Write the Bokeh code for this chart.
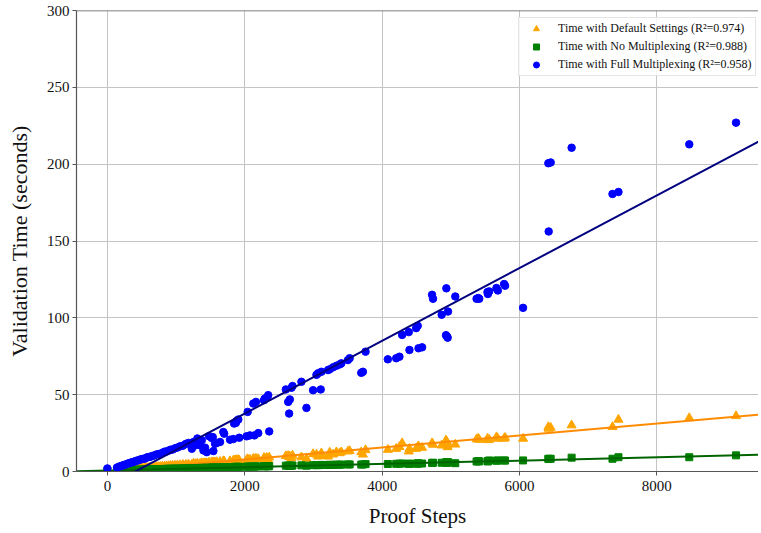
from bokeh.plotting import figure
from bokeh.models import Range1d, FixedTicker, Legend, LegendItem, Span
from bokeh.embed import file_html
from bokeh.resources import INLINE

# ---- data ----
proof_steps = [0, 140, 175, 205, 235, 260, 290, 315, 340, 365,
               390, 415, 440, 465, 490, 515, 540, 565, 590, 620,
               650, 680, 710, 740, 770, 800, 830, 860, 890, 920,
               950, 985, 1020, 1060, 1100, 1140, 1180, 1229, 1253, 1277,
               1310, 1350, 1374, 1398, 1422, 1447, 1480, 1519, 1534, 1543,
               1567, 1592, 1640, 1688, 1700, 1785, 1833, 1845, 1870, 1882,
               1906, 1920, 2027, 2042, 2075, 2124, 2140, 2163, 2196, 2279,
               2293, 2318, 2341, 2356, 2598, 2632, 2646, 2656, 2680, 2695,
               2825, 2898, 2995, 3044, 3067, 3106, 3116, 3212, 3237, 3285,
               3334, 3382, 3406, 3502, 3527, 3696, 3720, 3759, 4083, 4205,
               4252, 4291, 4388, 4398, 4495, 4518, 4530, 4582, 4727, 4741,
               4867, 4930, 4935, 4945, 4954, 4959, 5065, 5375, 5399, 5414,
               5534, 5540, 5559, 5665, 5685, 5776, 5790, 6052, 6420, 6425,
               6454, 6759, 7354, 7441, 8472, 9153]

time_full = [2.0, 2.6, 3.3, 3.6, 4.2, 4.4, 5.1, 5.3, 5.8, 6.0,
             6.4, 6.9, 7.1, 7.6, 7.9, 8.2, 8.3, 8.9, 9.4, 9.5,
             10.1, 10.4, 11.0, 11.3, 11.6, 12.1, 12.9, 13.0, 13.6, 14.2,
             14.3, 15.1, 15.6, 16.4, 16.8, 17.9, 18.6, 14.8, 19.2, 17.0,
             21.5, 17.0, 20.3, 13.7, 15.5, 12.6, 23.0, 21.8, 22.4, 13.3,
             18.1, 18.5, 19.2, 25.7, 24.6, 20.7, 21.1, 31.2, 31.6, 32.9,
             33.8, 22.0, 22.9, 38.8, 23.5, 44.2, 23.5, 45.3, 25.0, 46.4,
             47.5, 48.0, 49.7, 26.1, 53.4, 45.3, 37.7, 46.9, 54.5, 55.6,
             58.4, 41.4, 52.9, 62.9, 63.9, 53.4, 64.9, 66.0, 66.5, 67.8,
             68.8, 69.7, 70.4, 72.5, 73.7, 64.2, 64.9, 78.0, 73.0, 73.7,
             74.7, 88.9, 90.7, 79.1, 93.3, 94.8, 80.2, 80.8, 115.0, 112.4,
             102.0, 88.7, 119.2, 87.8, 87.1, 104.1, 113.9, 112.4, 112.9, 112.4,
             116.8, 115.5, 117.2, 119.4, 117.8, 122.0, 120.9, 106.5, 200.6, 156.2,
             201.1, 210.7, 180.6, 181.9, 212.9, 227.0]

time_default = [0.4, 0.6, 0.8, 0.9, 1.0, 1.1, 1.2, 1.3, 1.4, 1.5,
                1.6, 1.7, 1.8, 1.9, 2.0, 2.1, 2.2, 2.3, 2.4, 2.5,
                2.6, 2.7, 2.9, 3.0, 3.1, 3.2, 3.3, 3.5, 3.6, 3.7,
                3.8, 3.9, 4.1, 4.2, 4.4, 4.5, 4.7, 4.6, 5.1, 4.9,
                5.3, 5.0, 5.5, 5.2, 5.6, 5.4, 5.9, 6.0, 6.1, 5.8,
                6.0, 6.2, 6.3, 6.8, 6.6, 6.8, 7.0, 7.3, 7.4, 7.5,
                7.6, 7.2, 7.6, 8.1, 7.8, 8.4, 8.0, 8.5, 8.2, 8.9,
                8.3, 9.0, 7.6, 9.2, 10.1, 10.2, 9.5, 9.8, 8.7, 10.4,
                9.3, 8.3, 11.4, 11.1, 9.8, 10.5, 11.9, 9.8, 12.4, 11.1,
                12.6, 12.0, 12.6, 13.1, 13.4, 12.6, 11.1, 14.0, 14.2, 14.8,
                16.0, 18.5, 13.1, 14.8, 14.8, 15.9, 16.5, 15.5, 18.5, 17.5,
                17.0, 20.3, 19.5, 17.0, 15.9, 18.0, 17.6, 21.0, 21.4, 20.7,
                21.4, 20.5, 20.7, 22.4, 21.4, 21.4, 22.0, 21.4, 29.0, 27.9,
                28.5, 30.1, 29.0, 33.8, 34.8, 36.1]

time_nomux = [0.5, 0.6, 0.7, 0.7, 0.8, 0.8, 0.9, 0.9, 1.0, 1.0,
              1.0, 1.1, 1.1, 1.2, 1.2, 1.2, 1.3, 1.3, 1.4, 1.4,
              1.4, 1.5, 1.5, 1.6, 1.6, 1.6, 1.7, 1.7, 1.8, 1.8,
              1.8, 1.9, 1.9, 2.0, 2.0, 2.1, 2.1, 2.2, 2.2, 2.2,
              2.3, 2.3, 2.4, 2.3, 2.4, 2.4, 2.5, 2.5, 2.6, 2.5,
              2.6, 2.6, 2.7, 2.8, 2.8, 2.9, 2.9, 3.0, 3.0, 3.0,
              3.1, 3.0, 3.1, 3.2, 3.2, 3.3, 3.2, 3.3, 3.3, 3.4,
              3.4, 3.5, 3.4, 3.5, 3.8, 3.9, 3.7, 3.8, 3.8, 3.9,
              4.0, 3.8, 4.1, 4.2, 4.1, 4.2, 4.3, 4.2, 4.4, 4.3,
              4.5, 4.4, 4.5, 4.6, 4.6, 4.5, 4.6, 4.8, 4.9, 5.0,
              5.1, 5.2, 5.0, 5.1, 5.1, 5.3, 5.2, 5.2, 5.6, 5.7,
              5.7, 5.9, 6.0, 5.7, 5.8, 6.1, 5.4, 6.5, 6.7, 6.6,
              6.7, 6.6, 7.2, 7.0, 7.2, 7.2, 7.1, 7.2, 8.3, 8.1,
              8.3, 9.0, 8.3, 9.3, 9.3, 10.5]

# fitted lines (slope, intercept)
fit_default = [0.0039, 0.0]
fit_nomux = [0.00108, 0.6]
fit_full = [0.02366, -9.6]

labels = ["Time with Default Settings (R\u00b2=0.974)",
          "Time with No Multiplexing (R\u00b2=0.988)",
          "Time with Full Multiplexing (R\u00b2=0.958)"]

x_ticks = [0, 2000, 4000, 6000, 8000]
y_ticks = [0, 50, 100, 150, 200, 250, 300]
x_lim = [-450, 9480]
y_lim = [0, 300]

assert len(proof_steps) == len(time_full) == len(time_default) == len(time_nomux)

FONT = "Liberation Serif"

p = figure(width=758, height=530, output_backend="svg", toolbar_location=None,
           x_range=Range1d(*x_lim), y_range=Range1d(*y_lim),
           min_border_left=76, min_border_right=0, min_border_top=10, min_border_bottom=58)

p.outline_line_color = None
p.background_fill_color = "white"
p.border_fill_color = "white"

for ax in (p.xaxis[0], p.yaxis[0]):
    ax.axis_line_color = "#555555"
    ax.axis_line_width = 1.2
    ax.major_tick_line_color = "#555555"
    ax.major_tick_in = 0
    ax.major_tick_out = 4
    ax.minor_tick_line_color = None
    ax.major_label_text_font = FONT
    ax.major_label_text_font_size = "15px"
    ax.major_label_text_color = "#111111"
    ax.axis_label_text_font = FONT
    ax.axis_label_text_font_style = "normal"
    ax.axis_label_text_color = "#111111"

p.xaxis.axis_label_text_font_size = "21px"
p.yaxis.axis_label_text_font_size = "22px"
p.xaxis.ticker = FixedTicker(ticks=x_ticks)
p.yaxis.ticker = FixedTicker(ticks=y_ticks)
p.xaxis.axis_label = "Proof Steps"
p.yaxis.axis_label = "Validation Time (seconds)"
p.xaxis.major_label_standoff = 5
p.xaxis.axis_label_standoff = 10
p.yaxis.major_label_standoff = 3
p.yaxis.axis_label_standoff = 12

p.grid.grid_line_color = "#c4c4c4"
p.grid.grid_line_width = 1

p.add_layout(Span(location=y_lim[1], dimension="width", line_color="#555555", line_width=1.5))

def fit_xy(fit):
    return x_lim, [fit[0] * x + fit[1] for x in x_lim]

r_def = p.scatter(proof_steps, time_default, marker="triangle", size=9,
                  fill_color="orange", line_color="orange")
fx, fy = fit_xy(fit_default)
p.line(fx, fy, line_color="darkorange", line_width=2)

r_nom = p.scatter(proof_steps, time_nomux, marker="square", size=7,
                  fill_color="green", line_color="green")
fx, fy = fit_xy(fit_nomux)
p.line(fx, fy, line_color="darkgreen", line_width=2)

r_full = p.scatter(proof_steps, time_full, marker="circle", size=7.5,
                   fill_color="blue", line_color="blue")
fx, fy = fit_xy(fit_full)
p.line(fx, fy, line_color="navy", line_width=2)

legend = Legend(items=[LegendItem(label=labels[0], renderers=[r_def]),
                       LegendItem(label=labels[1], renderers=[r_nom]),
                       LegendItem(label=labels[2], renderers=[r_full])],
                location=(442, 395), margin=0, padding=3, spacing=3,
                glyph_width=28, glyph_height=15, label_height=15, label_standoff=8,
                label_text_font=FONT, label_text_font_size="12px",
                label_text_color="#111111",
                border_line_color="#cccccc", border_line_width=1,
                background_fill_color="white", background_fill_alpha=0.85)
p.add_layout(legend)

open("out.html", "w").write(file_html(p, INLINE))
